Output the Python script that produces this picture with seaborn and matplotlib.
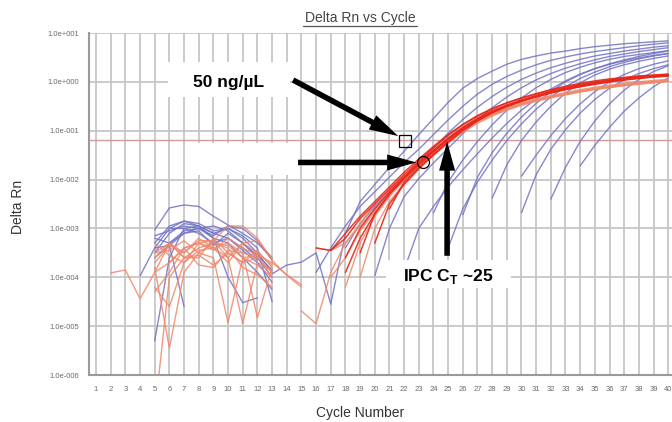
import numpy as np
import pandas as pd
import matplotlib
matplotlib.use("Agg")
import matplotlib.pyplot as plt
import seaborn as sns
from matplotlib.patches import Rectangle
from matplotlib.lines import Line2D

# ---------------- data ----------------
cycles = list(range(1, 41))
cycle_labels = [str(c) for c in cycles]
y_tick_values = [1e1, 1e0, 1e-1, 1e-2, 1e-3, 1e-4, 1e-5, 1e-6]
y_tick_labels = ["1.0e+001", "1.0e+000", "1.0e-001", "1.0e-002",
                 "1.0e-003", "1.0e-004", "1.0e-005", "1.0e-006"]
threshold = 0.066

# each entry: (first cycle, log10(Delta Rn) at consecutive cycles)
sample_curves = [
    (13, [-3.93, -3.75, -3.69, -3.5, -4.55, -3.1, -2.45, -2.1, -1.75, -1.42, -1.08, -0.75, -0.42, -0.13,
          0.07, 0.22, 0.36, 0.46, 0.53, 0.59, 0.63, 0.68, 0.72, 0.75, 0.78, 0.8, 0.82, 0.84]),
    (16, [-3.9, -3.4, -2.95, -2.55, -2.25, -1.95, -1.65, -1.38, -1.08, -0.78, -0.5, -0.25, -0.05, 0.11,
          0.24, 0.35, 0.44, 0.51, 0.57, 0.62, 0.66, 0.7, 0.74, 0.77, 0.8]),
    (18, [-3.4, -2.9, -2.55, -2.25, -1.95, -1.65, -1.36, -1.05, -0.77, -0.52, -0.3, -0.11, 0.05, 0.18,
          0.29, 0.38, 0.46, 0.53, 0.58, 0.63, 0.67, 0.71, 0.74]),
    (20, [-3.97, -3.0, -2.35, -1.98, -1.66, -1.36, -1.06, -0.78, -0.53, -0.31, -0.12, 0.04, 0.17, 0.28,
          0.37, 0.45, 0.52, 0.57, 0.62, 0.66, 0.7]),
    (22, [-3.85, -3.0, -2.55, -2.15, -1.8, -1.47, -1.15, -0.85, -0.58, -0.35, -0.15, 0.02, 0.16, 0.27,
          0.37, 0.45, 0.52, 0.58, 0.63]),
    (24, [-2.68, -2.05, -1.6, -1.22, -0.88, -0.58, -0.33, -0.12, 0.05, 0.19, 0.3, 0.39, 0.46, 0.52,
          0.56, 0.6, 0.64]),
    (25, [-3.4, -2.6, -2.05, -1.6, -1.2, -0.86, -0.56, -0.31, -0.1, 0.07, 0.2, 0.31, 0.4, 0.47, 0.53,
          0.58]),
    (26, [-2.72, -1.95, -1.45, -1.05, -0.72, -0.44, -0.2, 0.0, 0.15, 0.27, 0.36, 0.43, 0.49, 0.54,
          0.58]),
    (28, [-2.38, -1.7, -1.2, -0.82, -0.5, -0.23, -0.02, 0.14, 0.26, 0.35, 0.42, 0.48, 0.53]),
    (30, [-2.68, -1.9, -1.38, -0.98, -0.64, -0.36, -0.13, 0.04, 0.17, 0.27, 0.35]),
    (30, [-1.93, -1.5, -1.1, -0.75, -0.45, -0.2, 0.0, 0.15, 0.27, 0.36, 0.43]),
    (32, [-2.4, -1.75, -1.22, -0.8, -0.45, -0.17, 0.05, 0.21, 0.33]),
    (34, [-1.72, -1.3, -0.93, -0.6, -0.33, -0.1, 0.08]),
]

sample_noise = [
    (5, [-3.03, -2.58, -2.52, -2.55, -2.75, -2.93, -3.1, -3.3, -3.6]),
    (5, [-3.3, -2.95, -2.85, -2.9, -3.05, -3.0, -3.2, -3.5, -3.9]),
    (5, [-3.5, -3.1, -2.9, -2.95, -3.1, -3.2, -3.45, -3.7, -4.1]),
    (5, [-5.3, -3.6, -3.0, -2.95, -3.2, -3.3, -3.6, -3.9, -4.25]),
    (5, [-3.2, -3.3, -3.05, -3.0, -2.95, -3.05, -3.3, -3.6, -4.0]),
    (4, [-3.97, -3.4, -3.0, -3.0, -3.1, -3.3, -3.2, -3.4, -3.65]),
    (6, [-3.3, -3.1, -3.0, -3.2, -4.0, -4.52, -4.42]),
    (5, [-3.4, -3.35, -4.6]),
    (5, [-3.15, -3.05, -2.95, -3.0, -3.15, -2.95, -3.0, -3.25, -3.65]),
    (5, [-3.6, -3.35, -3.1, -3.05, -3.35, -3.1, -3.3, -3.55, -3.85]),
    (6, [-3.0, -2.85, -2.95, -3.1, -3.0, -3.15, -3.4, -4.5]),
]

ipc_bright = [
    (17, [-3.45, -3.2, -2.8, -2.5, -2.2, -1.9, -1.62, -1.35, -1.1, -0.88, -0.7, -0.55, -0.43, -0.33,
          -0.24, -0.16, -0.09, -0.03, 0.02, 0.06, 0.09, 0.12, 0.14, 0.16]),
    (18, [-3.6, -3.0, -2.6, -2.25, -1.95, -1.66, -1.4, -1.15, -0.93, -0.74, -0.59, -0.47, -0.37, -0.28,
          -0.2, -0.13, -0.07, -0.02, 0.03, 0.07, 0.1, 0.12, 0.14]),
    (16, [-3.4, -3.45, -3.1, -2.75, -2.45, -2.15, -1.85, -1.58, -1.32, -1.08, -0.87, -0.69, -0.55, -0.43,
          -0.33, -0.25, -0.17, -0.11, -0.05, 0.0, 0.04, 0.08, 0.11, 0.13, 0.15]),
    (19, [-3.5, -2.7, -2.3, -1.98, -1.7, -1.43, -1.18, -0.96, -0.78, -0.62, -0.5, -0.4, -0.31, -0.23,
          -0.16, -0.1, -0.05, 0.0, 0.04, 0.07, 0.1, 0.12]),
    (20, [-3.3, -2.5, -2.1, -1.78, -1.5, -1.24, -1.0, -0.8, -0.63, -0.5, -0.39, -0.3, -0.22, -0.15,
          -0.09, -0.04, 0.01, 0.05, 0.08, 0.11, 0.13]),
    (18, [-3.9, -3.2, -2.7, -2.3, -1.97, -1.68, -1.41, -1.16, -0.94, -0.76, -0.61, -0.49, -0.38, -0.29,
          -0.21, -0.14, -0.08, -0.03, 0.01, 0.05, 0.08, 0.1, 0.12]),
    (21, [-2.6, -2.05, -1.75, -1.48, -1.22, -0.99, -0.79, -0.63, -0.5, -0.39, -0.3, -0.22, -0.15, -0.09,
          -0.04, 0.0, 0.04, 0.08, 0.11, 0.14]),
]

ipc_light = [
    (15, [-4.69, -4.95, -3.9, -3.3, -2.9, -2.5, -2.2, -1.92, -1.65, -1.4, -1.17, -0.97, -0.8, -0.66,
          -0.55, -0.45, -0.37, -0.3, -0.24, -0.18, -0.13, -0.09, -0.05, -0.02, 0.01, 0.03]),
    (16, [-3.4, -3.45, -3.3, -2.95, -2.6, -2.3, -2.0, -1.72, -1.45, -1.2, -0.99, -0.82, -0.68, -0.56,
          -0.46, -0.38, -0.31, -0.25, -0.19, -0.14, -0.1, -0.06, -0.03, 0.0, 0.02]),
    (18, [-4.2, -3.3, -2.75, -2.35, -2.02, -1.72, -1.45, -1.2, -0.98, -0.8, -0.65, -0.53, -0.43, -0.35,
          -0.28, -0.22, -0.16, -0.11, -0.07, -0.03, 0.0, 0.03, 0.05]),
    (17, [-4.0, -3.6, -3.05, -2.65, -2.3, -1.98, -1.68, -1.42, -1.18, -0.97, -0.8, -0.66, -0.55, -0.46,
          -0.38, -0.31, -0.25, -0.2, -0.15, -0.11, -0.07, -0.04, -0.01, 0.01]),
    (19, [-4.0, -3.0, -2.45, -2.08, -1.77, -1.5, -1.25, -1.03, -0.85, -0.7, -0.58, -0.48, -0.4, -0.33,
          -0.27, -0.21, -0.16, -0.12, -0.08, -0.05, -0.02, 0.01]),
]

ipc_noise = [
    (2, [-3.91, -3.85, -4.44, -3.9, -3.3, -3.6, -3.55, -3.75, -3.5, -3.7, -3.6, -3.9]),
    (5, [-6.8, -4.0, -3.6, -3.4, -3.3, -3.4, -3.8, -3.95, -4.2]),
    (5, [-3.8, -5.45, -3.9, -3.5, -3.3, -3.35, -3.6, -3.75, -4.0]),
    (5, [-3.7, -3.35, -3.5, -3.25, -3.25, -3.6, -4.95, -3.7, -3.85]),
    (5, [-3.5, -3.45, -3.25, -3.5, -3.6, -4.93, -3.6, -3.55, -4.0]),
    (5, [-3.3, -3.55, -3.7, -3.3, -3.25, -2.95, -2.95, -3.2, -3.65, -3.96, -4.2]),
    (5, [-3.6, -3.3, -3.5, -3.2, -3.4, -3.3, -3.5, -4.83, -3.8]),
    (5, [-4.3, -3.9, -3.4, -3.3, -3.45, -3.2, -3.4, -3.55, -3.7, -3.95, -4.15]),
    (5, [-3.5, -3.3, -3.6, -3.6, -3.2, -3.5, -3.7, -3.45, -3.8]),
    (6, [-3.7, -3.4, -3.3, -3.4, -3.6, -3.3, -3.25, -3.6]),
    (5, [-3.9, -3.7, -3.4, -3.75, -3.8, -3.45, -3.5, -3.6]),
    (5, [-4.2, -4.6, -3.7, -3.45, -3.4, -3.7, -3.3, -3.5, -3.75]),
]

# annotation anchors (data coordinates)
square_mark = (22.03, 0.063)
circle_mark = (23.26, 0.0224)
ipc_ct = 24.93

# ---------------- build long table ----------------
rows = []
uid = 0
for group, sets in [("sample", sample_curves + sample_noise),
                    ("ipc_light", ipc_light + ipc_noise),
                    ("ipc", ipc_bright)]:
    for start, vals in sets:
        for i, v in enumerate(vals):
            rows.append({"cycle": start + i, "drn": 10.0 ** v, "unit": uid, "group": group})
        uid += 1
df = pd.DataFrame(rows)

# ---------------- styling ----------------
sns.set_style("white")
plt.rcParams["font.family"] = ["Liberation Sans", "DejaVu Sans"]
plt.rcParams["mathtext.fontset"] = "custom"
plt.rcParams["mathtext.bf"] = "Liberation Sans:bold"
plt.rcParams["mathtext.rm"] = "Liberation Sans"

W, H = 672, 422
fig = plt.figure(figsize=(W / 100, H / 100), dpi=100)
ax = fig.add_axes([89 / W, 1 - 375 / H, (W - 89) / W, (375 - 33) / H])

colors = {"sample": "#7272c6", "ipc_light": "#f0876a", "ipc": "#e8281c"}
for group, lw, alpha in [("sample", 1.0, 0.85), ("ipc_light", 1.0, 0.85), ("ipc", 1.1, 0.9)]:
    sns.lineplot(data=df[df.group == group], x="cycle", y="drn", units="unit",
                 estimator=None, color=colors[group], lw=lw, alpha=alpha,
                 ax=ax, legend=False, zorder=3)

ax.set_yscale("log")
ax.set_ylim(1e-6, 1e1)
ax.set_xlim(0.52, 40.26)
ax.set_xticks(cycles)
ax.set_xticklabels(cycle_labels)
ax.set_yticks(y_tick_values)
ax.set_yticklabels(y_tick_labels)
ax.minorticks_off()
ax.grid(True, color="#c6c6c6", lw=1.3)
ax.set_axisbelow(True)
ax.axhline(threshold, color="#d49a9a", lw=1.0, zorder=2)

for s in ["top", "right"]:
    ax.spines[s].set_visible(False)
for s in ["left", "bottom"]:
    ax.spines[s].set_color("#9a9a9a")
    ax.spines[s].set_linewidth(1.5)
ax.tick_params(axis="both", length=0, labelsize=5.5, labelcolor="#6a6a6a")
ax.tick_params(axis="x", pad=8)
ax.tick_params(axis="y", pad=7)
ax.set_xlabel("")
ax.set_ylabel("")

# titles / labels
fig.text(360 / W, 1 - 18 / H, "Delta Rn vs Cycle", ha="center", va="center",
         fontsize=10, color="#444444")
fig.add_artist(Line2D([303 / W, 417 / W], [1 - 26 / H, 1 - 26 / H],
                      transform=fig.transFigure, color="#555555", lw=0.9))
fig.text(18 / W, 1 - 207 / H, "Delta Rn", rotation=90, ha="center", va="center",
         fontsize=10, color="#333333")
fig.text(360 / W, 1 - 413 / H, "Cycle Number", ha="center", va="center",
         fontsize=10, color="#333333")

# white label boxes
def box(x0, y0, x1, y1):
    fig.add_artist(Rectangle((x0 / W, 1 - y1 / H), (x1 - x0) / W, (y1 - y0) / H,
                             transform=fig.transFigure, fc="white", ec="none", zorder=5))

box(168, 62, 290, 97)
box(185, 143, 290, 175)
box(386, 260, 511, 288)
fig.text(229 / W, 1 - 82 / H, "50 ng/µL", ha="center", va="center", fontsize=12.5,
         fontweight="bold", color="black", zorder=6)
fig.text(448 / W, 1 - 276 / H, r"IPC C$_\mathbf{T}$ ~25", ha="center", va="center",
         fontsize=12.5, fontweight="bold", color="black", zorder=6)

# markers
ax.plot([square_mark[0]], [square_mark[1]], marker="s", ms=9.2, mfc="none",
        mec="black", mew=0.9, zorder=7, clip_on=False)
ax.plot([circle_mark[0]], [circle_mark[1]], marker="o", ms=8.6, mfc="none",
        mec="black", mew=0.9, zorder=7, clip_on=False)

# arrows
style = "simple,head_length=2.1,head_width=1.15,tail_width=0.4"
def arrow(tail, tip):
    ax.annotate("", xy=tip, xytext=tail, xycoords="data", textcoords="data",
                arrowprops=dict(arrowstyle=style, mutation_scale=10, fc="black",
                                ec="black", shrinkA=0, shrinkB=0, lw=0),
                zorder=8, annotation_clip=False)

arrow((14.43, 10 ** 0.038), (21.6, 10 ** -1.11))
arrow((14.77, circle_mark[1]), (22.83, circle_mark[1]))
arrow((ipc_ct, 10 ** -3.56), (ipc_ct, 10 ** -1.22))

fig.savefig("out.png", dpi=100)
